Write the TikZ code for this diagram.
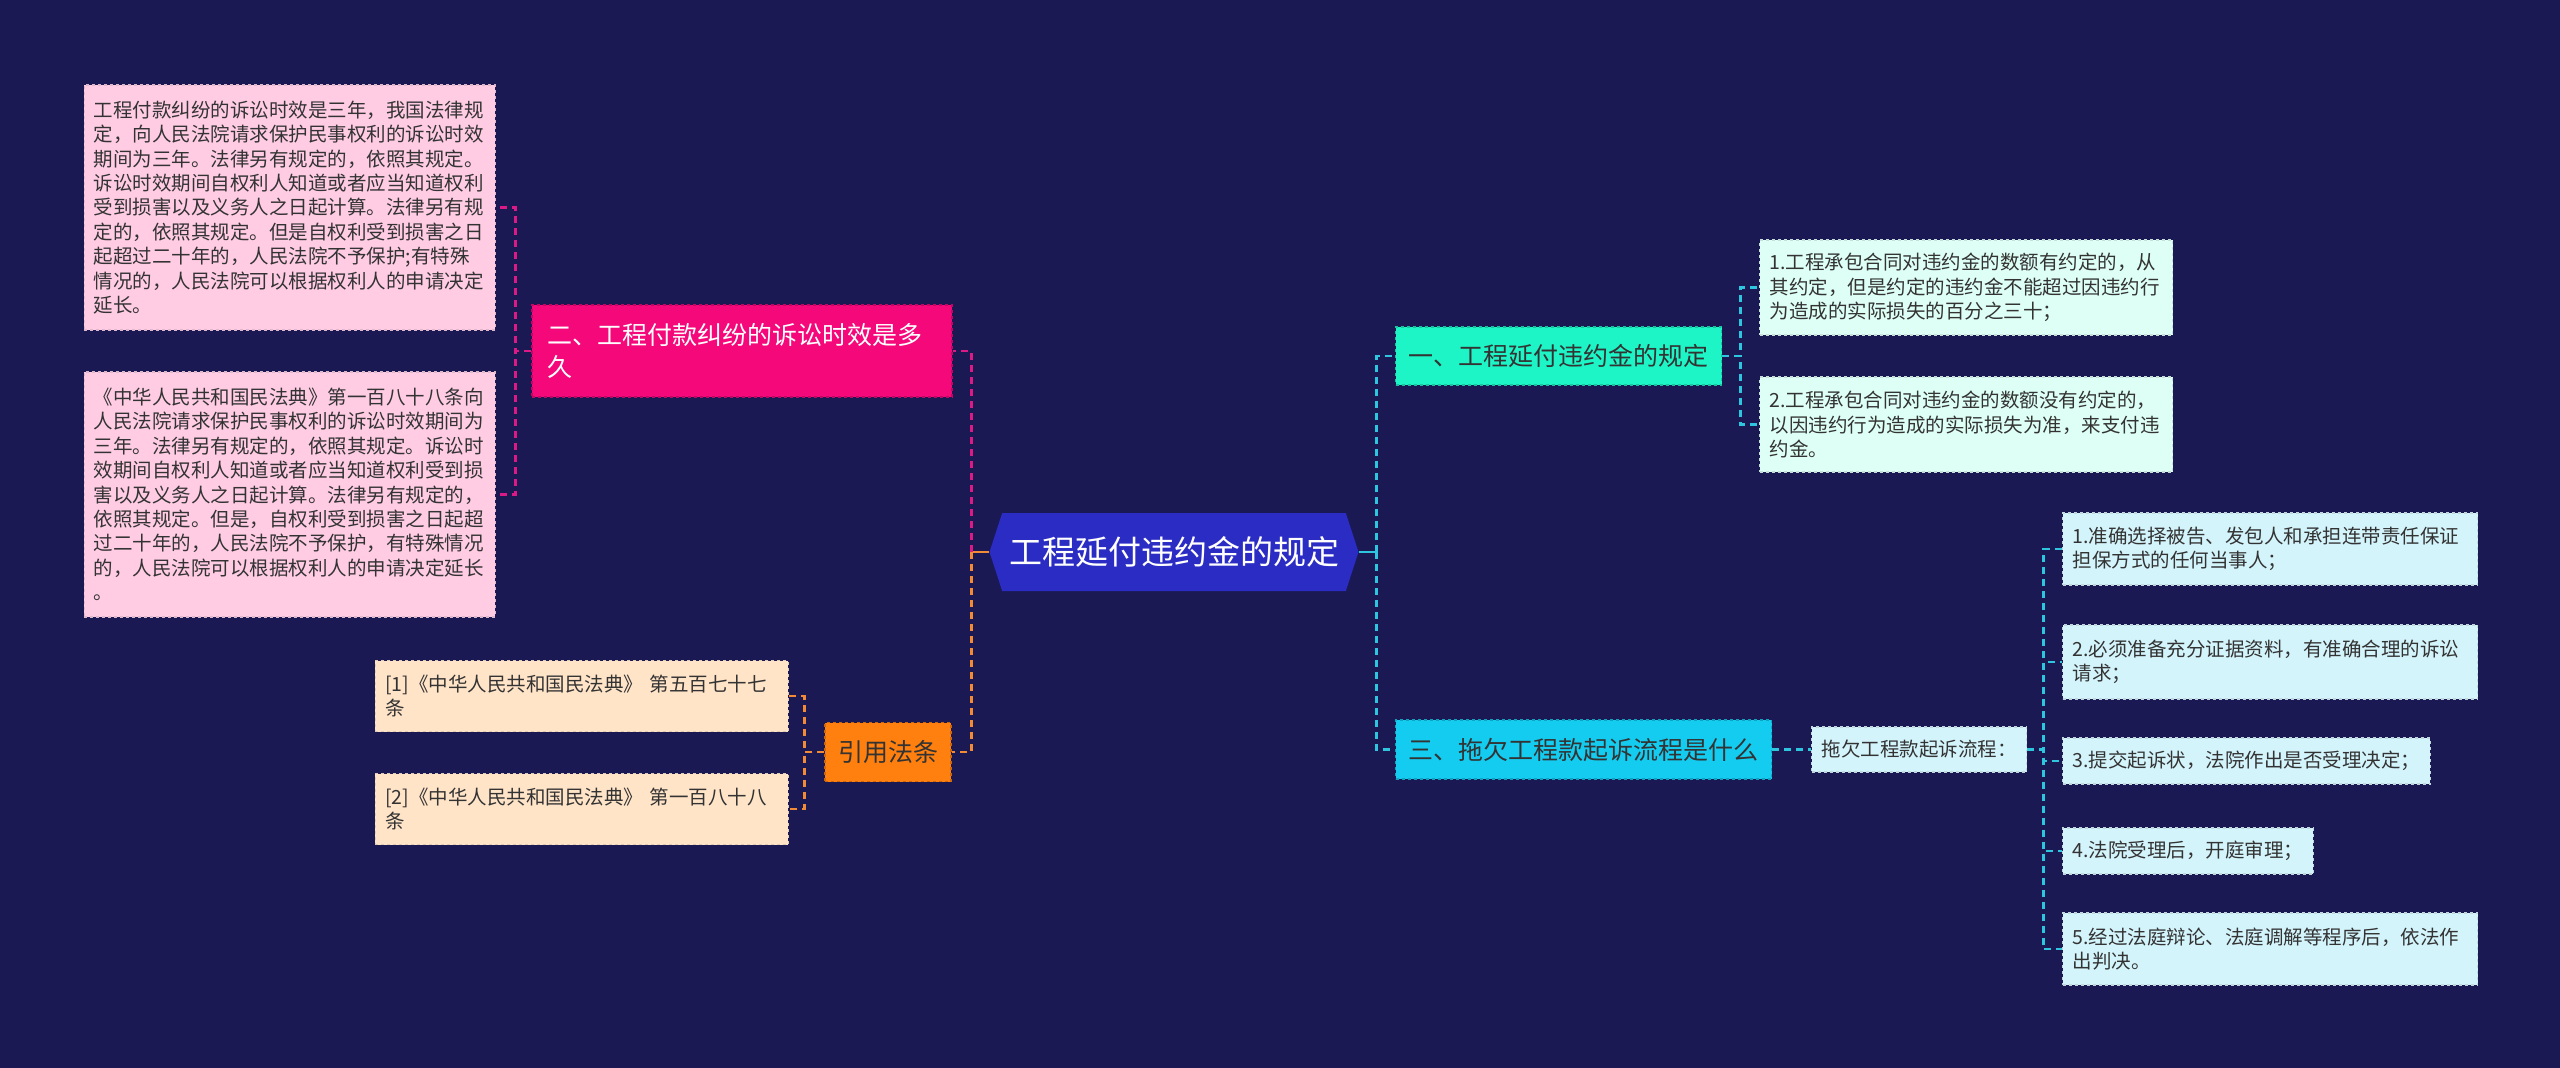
\documentclass[tikz,border=0pt]{standalone}
\usepackage{fontspec}
\setmainfont{Noto Sans CJK SC}
\usepackage{xcolor}
\usetikzlibrary{shapes.symbols}

\definecolor{bgnavy}{HTML}{1B1954}
\definecolor{hubblue}{HTML}{2A2CC4}
\definecolor{rosered}{HTML}{F4087A}
\definecolor{rosepale}{HTML}{FFCCE4}
\definecolor{roseline}{HTML}{DC1A86}
\definecolor{orangemid}{HTML}{FF7F0F}
\definecolor{orangepale}{HTML}{FFE4C8}
\definecolor{orangeline}{HTML}{F28A36}
\definecolor{aquamid}{HTML}{1EF5C6}
\definecolor{aquapale}{HTML}{DDFFF5}
\definecolor{skymid}{HTML}{14CCF0}
\definecolor{skypale}{HTML}{D4F4FC}
\definecolor{skyline}{HTML}{2EC6DE}
\definecolor{inkdark}{HTML}{333333}

\begin{document}
\begin{tikzpicture}[x=1pt, y=-1pt,
  hubnode/.style={signal, signal to=west and east, signal pointer angle=144, fill=hubblue, text=white,
    font=\fontsize{33}{40}\selectfont, inner sep=0pt, minimum width=369pt, minimum height=78pt},
  branchbox/.style={draw=#1!80!black, dashed, line width=1.2pt, fill=#1, text=inkdark,
    font=\fontsize{25}{32}\selectfont, inner xsep=13pt, inner ysep=12pt, align=left},
  leafbox/.style={draw=#1!75!gray, dashed, line width=1.2pt, fill=#1, text=inkdark,
    font=\fontsize{19.5}{24.4}\selectfont, inner xsep=10pt, inner ysep=13pt, align=left},
  linkline/.style={draw=#1, dash pattern=on 7pt off 5pt, line width=2.6pt},
  stubline/.style={draw=#1, line width=2.6pt},
]
\fill[bgnavy] (0,0) rectangle (2560,1068);
\useasboundingbox (0,0) rectangle (2560,1068);

% centre
\node[hubnode] (hub) at (1174,552) {工程延付违约金的规定};

% left: statute of limitation
\node[branchbox=rosered, text=white, text width=390pt, inner xsep=15pt, minimum height=92pt] (er) at (742,351) {二、工程付款纠纷的诉讼时效是多\\久};
\node[leafbox=rosepale, anchor=east, text width=392pt, inner xsep=9.5pt, minimum height=245pt] (p1) at (496,207.5) {工程付款纠纷的诉讼时效是三年，我国法律规\\定，向人民法院请求保护民事权利的诉讼时效\\期间为三年。法律另有规定的，依照其规定。\\诉讼时效期间自权利人知道或者应当知道权利\\受到损害以及义务人之日起计算。法律另有规\\定的，依照其规定。但是自权利受到损害之日\\起超过二十年的，人民法院不予保护;有特殊\\情况的，人民法院可以根据权利人的申请决定\\延长。};
\node[leafbox=rosepale, anchor=east, text width=392pt, inner xsep=9.5pt, minimum height=245pt] (p2) at (496,494.5) {《中华人民共和国民法典》第一百八十八条向\\人民法院请求保护民事权利的诉讼时效期间为\\三年。法律另有规定的，依照其规定。诉讼时\\效期间自权利人知道或者应当知道权利受到损\\害以及义务人之日起计算。法律另有规定的，\\依照其规定。但是，自权利受到损害之日起超\\过二十年的，人民法院不予保护，有特殊情况\\的，人民法院可以根据权利人的申请决定延长\\。};

% left: cited articles
\node[branchbox=orangemid, minimum height=59pt] (yy) at (888,752) {引用法条};
\node[leafbox=orangepale, anchor=east, text width=393pt, minimum height=71pt] (o1) at (789,696) {[1]《中华人民共和国民法典》 第五百七十七\\条};
\node[leafbox=orangepale, anchor=east, text width=393pt, minimum height=71pt] (o2) at (789,809) {[2]《中华人民共和国民法典》 第一百八十八\\条};

% right: liquidated damages
\node[branchbox=aquamid, anchor=west, minimum height=58pt] (y1) at (1395,356) {一、工程延付违约金的规定};
\node[leafbox=aquapale, anchor=west, text width=393pt, minimum height=95pt] (a1) at (1759,287.5) {1.工程承包合同对违约金的数额有约定的，从\\其约定，但是约定的违约金不能超过因违约行\\为造成的实际损失的百分之三十；};
\node[leafbox=aquapale, anchor=west, text width=393pt, minimum height=95pt] (a2) at (1759,424.5) {2.工程承包合同对违约金的数额没有约定的，\\以因违约行为造成的实际损失为准，来支付违\\约金。};

% right: lawsuit procedure
\node[branchbox=skymid, anchor=west, minimum height=59pt] (s3) at (1395,749.5) {三、拖欠工程款起诉流程是什么};
\node[leafbox=skypale, anchor=west, inner ysep=10pt, minimum height=45pt] (t) at (1811,749.5) {拖欠工程款起诉流程：};
\node[leafbox=skypale, anchor=west, text width=395pt, minimum height=72pt] (b1) at (2062,549) {1.准确选择被告、发包人和承担连带责任保证\\担保方式的任何当事人；};
\node[leafbox=skypale, anchor=west, text width=395pt, minimum height=74pt] (b2) at (2062,662) {2.必须准备充分证据资料，有准确合理的诉讼\\请求；};
\node[leafbox=skypale, anchor=west, minimum height=46pt] (b3) at (2062,761) {3.提交起诉状，法院作出是否受理决定；};
\node[leafbox=skypale, anchor=west, minimum height=46pt] (b4) at (2062,851) {4.法院受理后，开庭审理；};
\node[leafbox=skypale, anchor=west, text width=395pt, minimum height=72pt] (b5) at (2062,949) {5.经过法庭辩论、法庭调解等程序后，依法作\\出判决。};

% connectors
\draw[stubline=orangeline] (hub.west) -- ++(-18,0) coordinate (hubl);
\draw[stubline=skyline] (hub.east) -- ++(18,0) coordinate (hubr);
\draw[linkline=roseline] (hubl) |- (er.east);
\draw[linkline=orangeline] (hubl) |- (yy.east);
\draw[linkline=roseline] (er.west) -- ++(-16,0) |- (p1.east);
\draw[linkline=roseline] (er.west) -- ++(-16,0) |- (p2.east);
\draw[linkline=orangeline] (yy.west) -- ++(-20,0) |- (o1.east);
\draw[linkline=orangeline] (yy.west) -- ++(-20,0) |- (o2.east);
\draw[linkline=skyline] (hubr) |- (y1.west);
\draw[linkline=skyline] (hubr) |- (s3.west);
\draw[linkline=skyline] (y1.east) -- ++(18,0) |- (a1.west);
\draw[linkline=skyline] (y1.east) -- ++(18,0) |- (a2.west);
\draw[linkline=skyline] (s3.east) -- (t.west);
\foreach \b in {b1,b2,b3,b4,b5}
  \draw[linkline=skyline] (t.east) -- ++(16,0) |- (\b.west);
\end{tikzpicture}
\end{document}
